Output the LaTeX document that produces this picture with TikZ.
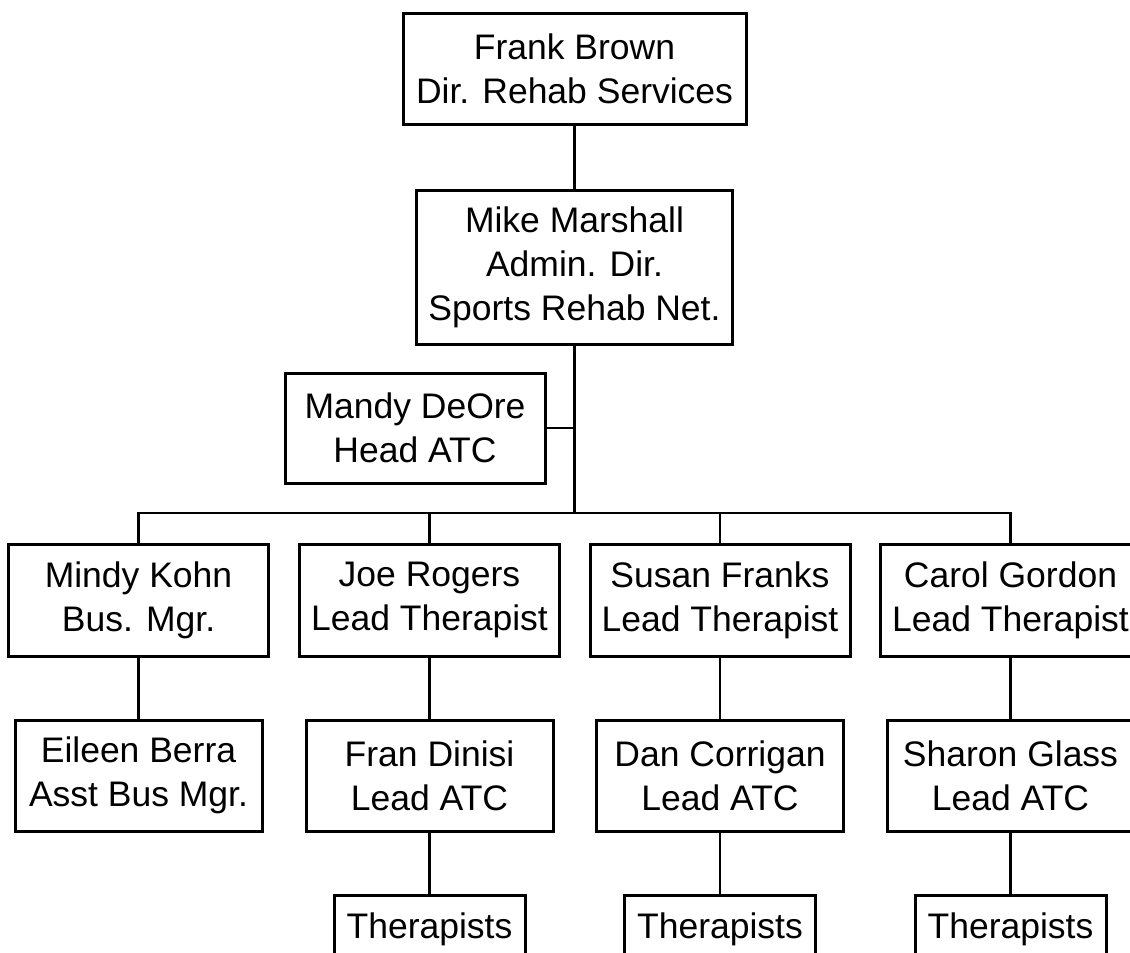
\documentclass[tikz,border=0pt]{standalone}
\usepackage{fontspec}
\setmainfont{Liberation Sans}
\usetikzlibrary{positioning}

\begin{document}
\begin{tikzpicture}[x=1pt,y=-1pt,node distance=61pt,
  box/.style={draw,line width=3pt,align=center,inner sep=2pt,minimum width=260pt,minimum height=112pt,font=\fontsize{35.5}{44}\selectfont},
  subbox/.style={box,minimum width=247pt,minimum height=111pt},
  staff/.style={box,minimum width=191pt,minimum height=68pt},
  link/.style={line width=2.7pt}]
  \useasboundingbox (0,0) rectangle (1130,953);
  % top of the chart
  \node[box,minimum width=343pt,minimum height=111pt] (frank) at (574.5,68.5) {Frank Brown\\Dir. Rehab Services};
  \node[box,minimum width=316pt,minimum height=154pt,below=63pt of frank] (mike) {Mike Marshall\\Admin. Dir.\\Sports Rehab Net.};
  \node[box,minimum height=110pt] (mandy) at (415,428) {Mandy DeOre\\Head ATC};
  % first row
  \node[box] (mindy) at (138.5,600) {Mindy Kohn\\Bus. Mgr.};
  \node[box] (joe) at (429.5,600) {Joe Rogers\\Lead Therapist};
  \node[box] (susan) at (720,600) {Susan Franks\\Lead Therapist};
  \node[box] (carol) at (1010.5,600) {Carol Gordon\\Lead Therapist};
  % second row
  \node[subbox,below=of mindy] (eileen) {Eileen Berra\\Asst Bus Mgr.};
  \node[subbox,below=of joe] (fran) {Fran Dinisi\\Lead ATC};
  \node[subbox,below=of susan] (dan) {Dan Corrigan\\Lead ATC};
  \node[subbox,below=of carol] (sharon) {Sharon Glass\\Lead ATC};
  % third row
  \node[staff,below=of fran] (therfran) {Therapists};
  \node[staff,below=of dan] (therdan) {Therapists};
  \node[staff,below=of sharon] (thersharon) {Therapists};
  % connectors
  \coordinate (busline) at (0,513);
  \coordinate (hub) at (mike.south |- busline);
  \draw[link] (frank) -- (mike);
  \draw[link] (mike.south) -- (hub);
  \draw[link] (mandy.east) -- (mandy.east -| mike.south);
  \draw[link] (mindy.north) |- (hub) -| (carol.north);
  \draw[link] (joe.north) -- (joe.north |- hub);
  \draw[link] (susan.north) -- (susan.north |- hub);
  \draw[link] (mindy) -- (eileen);
  \draw[link] (joe) -- (fran);
  \draw[link] (susan) -- (dan);
  \draw[link] (carol) -- (sharon);
  \draw[link] (fran) -- (therfran);
  \draw[link] (dan) -- (therdan);
  \draw[link] (sharon) -- (thersharon);
\end{tikzpicture}
\end{document}
